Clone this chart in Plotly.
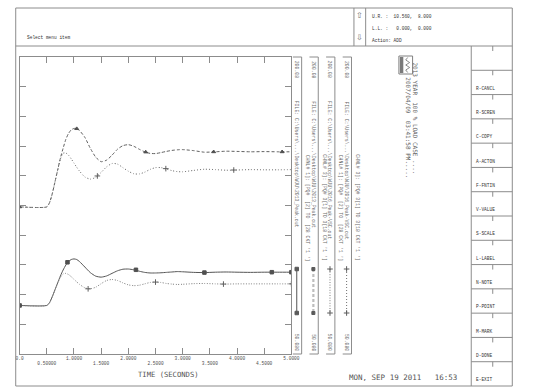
import plotly.graph_objects as go

W, H = 533, 389

# ------------------------------------------------------------------ data
TIME = [0.0, 0.5, 0.55, 0.6, 0.65, 0.7, 0.75, 0.8, 0.85, 0.9, 0.95, 1.0, 1.05, 1.1,
        1.2, 1.3, 1.4, 1.5, 1.6, 1.7, 1.8, 1.9, 2.0, 2.1, 2.2, 2.3, 2.4, 2.5, 2.6,
        2.7, 2.8, 2.9, 3.0, 3.2, 3.4, 3.6, 3.8, 4.0, 4.25, 4.5, 4.75, 5.0]

# 2013_Peak.out  CHNL 3 (upper, dashed)
PEAK2013_CH3 = [124.4, 124.4, 126.5, 131.0, 137.0, 143.0, 149.0, 154.0, 158.5, 161.5,
                163.3, 164.0, 163.9, 163.0, 159.5, 154.0, 149.5, 147.2, 148.0, 150.5,
                153.5, 155.3, 155.8, 155.0, 153.5, 152.2, 151.4, 151.3, 151.8, 152.4,
                152.9, 153.2, 153.3, 152.8, 152.0, 152.2, 152.5, 152.4, 152.2, 152.3,
                152.2, 152.2]
# 2016_Peak-VSC.out  CHNL 3 (upper, dotted)
VSC2016_CH3 = [124.4, 124.4, 126.5, 131.0, 137.0, 143.0, 148.5, 151.5, 151.6, 150.5,
               148.6, 146.5, 144.4, 142.5, 139.5, 138.4, 139.3, 141.8, 144.6, 146.3,
               146.0, 144.2, 142.4, 141.1, 141.0, 141.9, 143.3, 144.2, 144.2, 143.5,
               142.7, 142.2, 142.1, 142.8, 143.4, 143.2, 142.9, 143.0, 143.2, 143.1,
               143.1, 143.2]
# 2013_Peak.out  CHNL 1 (lower, solid)
PEAK2013_CH1 = [74.6, 74.6, 76.0, 79.0, 82.5, 86.0, 89.5, 92.5, 95.0, 96.8,
                97.8, 98.1, 97.8, 96.8, 94.0, 91.2, 89.4, 88.9, 89.5, 90.8,
                92.1, 92.9, 93.0, 92.6, 91.9, 91.3, 91.0, 91.0, 91.1, 91.3,
                91.5, 91.7, 91.6, 91.3, 91.2, 91.4, 91.5, 91.4, 91.3, 91.4,
                91.4, 91.4]
# 2016_Peak-VSC.out  CHNL 1 (lower, dotted)
VSC2016_CH1 = [74.6, 74.6, 76.0, 79.0, 82.5, 86.0, 88.8, 90.5, 90.8, 90.2,
               89.1, 87.8, 86.5, 85.3, 83.5, 83.0, 83.8, 85.6, 87.2, 87.7,
               87.2, 86.0, 85.0, 84.6, 84.8, 85.5, 86.2, 86.4, 86.2, 85.7,
               85.4, 85.2, 85.3, 85.6, 85.7, 85.5, 85.4, 85.5, 85.5, 85.5,
               85.5, 85.5]

# symbol positions along each curve
MK_PEAK2013_CH1_T = [0.0, 0.88, 2.14, 3.40, 4.64, 5.0]
MK_PEAK2013_CH1_V = [74.6, 96.4, 92.6, 91.2, 91.4, 91.4]
MK_PEAK2013_CH3_T = [0.0, 1.05, 2.32, 3.57, 4.83]
MK_PEAK2013_CH3_V = [124.4, 163.9, 152.1, 152.2, 152.2]
MK_VSC2016_CH3_T = [1.43, 2.69, 3.94]
MK_VSC2016_CH3_V = [140.0, 143.7, 143.0]
MK_VSC2016_CH1_T = [1.26, 2.50, 3.75, 5.0]
MK_VSC2016_CH1_V = [83.0, 86.4, 85.4, 85.5]

X_MAJOR_TICKS = [0, 1, 2, 3, 4, 5]
X_MAJOR_LABELS = ["0.0", "1.0000", "2.0000", "3.0000", "4.0000", "5.0000"]
X_MINOR_TICKS = [0.5, 1.5, 2.5, 3.5, 4.5]
X_MINOR_LABELS = ["0.50000", "1.5000", "2.5000", "3.5000", "4.5000"]
Y_MIN, Y_MAX = 50.080, 200.08
Y_TICKS = [50.08, 65.08, 80.08, 95.08, 110.08, 125.08, 140.08, 155.08, 170.08, 185.08, 200.08]

STRIP_MAX = ["200.08", "200.08", "200.08", "200.08"]
STRIP_MIN = ["50.080", "50.080", "50.080", "50.080"]
STRIP_FILE = ["FILE: C:\\Users\\...\\Desktop\\WJU\\2013_Peak.out",
              "FILE: C:\\Users\\...\\Desktop\\WJU\\2013_Peak.out",
              "FILE: C:\\Users\\...\\Desktop\\WJU\\2016_Peak-VSC.out",
              "FILE: C:\\Users\\...\\Desktop\\WJU\\2016_Peak-VSC.out"]
NB = "\u00a0"
STRIP_CHNL = ["CHNL# 1]: [PQ#" + NB * 2 + "[2] TO" + NB * 2 + "[28 CKT '1 ']",
              "CHNL# 3]: [PQ# 3[1] TO 3[18 CKT '1 ']",
              "CHNL# 1]: [PQ#" + NB * 2 + "[2] TO" + NB * 2 + "[28 CKT '1 ']",
              "CHNL# 3]: [PQ# 3[1] TO 3[18 CKT '1 ']"]

MENU_ITEMS = ["R-CANCL", "R-SCREN", "C-COPY", "A-ACTON", "F-FNTIN", "V-VALUE",
              "S-SCALE", "L-LABEL", "N-NOTE", "P-POINT", "M-MARK", "D-DONE", "E-EXIT"]

TITLE_1 = "2013 YEAR" + NB * 2 + "100 % LOAD CASE" + NB + "...."
TITLE_2 = "2007/04/09" + NB * 2 + "03:41:58 PM....."
DATE_TEXT = "MON, SEP 19 2011" + NB * 3 + "16:53"
X_TITLE = "TIME (SECONDS)"
HEADER_LEFT = "Select menu item"
HEADER_RIGHT = ["U.R. :" + NB * 2 + "10.560," + NB * 2 + "8.000",
                "L.L. :" + NB * 3 + "0.000," + NB * 2 + "0.000",
                "Action: ADD"]

# ------------------------------------------------------------------ layout helpers
def PX(x):
    return x / W


def PY(y):
    return 1 - y / H


PLOT_L, PLOT_R, PLOT_T, PLOT_B = 16, 294, 57, 354
FRAME_L, FRAME_R, FRAME_T, FRAME_B = 12, 520, 8, 386
HEAD_B = 46
MENU_L = 478
ROW_H = (FRAME_B - HEAD_B) / 14
STRIP_A0 = 299.5
STRIP_DX = 17

LINE = "#8c8c8c"
TXT = "#4d4d4d"
STRIPTXT = "#6a6a6a"
MONO = "Liberation Mono"
SMONO = "DejaVu Sans Mono"

fig = go.Figure()

# curves
curve_specs = [
    (PEAK2013_CH1, "#555555", "solid", 1.0),
    (PEAK2013_CH3, "#606060", "3px,2px", 1.0),
    (VSC2016_CH1, "#808080", "1px,1.6px", 1.0),
    (VSC2016_CH3, "#707070", "1px,2px", 1.0),
]
for ys, col, dash, w in curve_specs:
    fig.add_trace(go.Scatter(x=TIME, y=ys, mode="lines",
                             line=dict(color=col, width=w, dash=dash, shape="spline", smoothing=0.6),
                             hoverinfo="skip", showlegend=False))

marker_specs = [
    (MK_PEAK2013_CH1_T, MK_PEAK2013_CH1_V, "square", 3.5, "#505050"),
    (MK_PEAK2013_CH3_T, MK_PEAK2013_CH3_V, "triangle-up", 3.5, "#505050"),
    (MK_VSC2016_CH1_T, MK_VSC2016_CH1_V, "cross-thin", 4, "#606060"),
    (MK_VSC2016_CH3_T, MK_VSC2016_CH3_V, "cross-thin", 4, "#606060"),
]
for xs, ys, sym, sz, col in marker_specs:
    fig.add_trace(go.Scatter(x=xs, y=ys, mode="markers",
                             marker=dict(symbol=sym, size=sz, color=col,
                                         line=dict(color=col, width=1)),
                             hoverinfo="skip", showlegend=False))

# dummy trace to carry the staggered tick-label axis
fig.add_trace(go.Scatter(x=[0], y=[Y_MIN], mode="lines", xaxis="x2", yaxis="y",
                         line=dict(width=0), hoverinfo="skip", showlegend=False))

# legend samples (drawn in a pixel-space overlay)
legend_specs = [
    ("#555555", "solid", 1.0, "square", 3.5),
    ("#bdbdbd", "3px,2px", 2.2, "square", 3),
    ("#808080", "1px,1.6px", 1.0, "cross-thin", 4),
    ("#707070", "1px,2px", 1.0, "cross-thin", 4),
]
for k, (col, dash, w, sym, sz) in enumerate(legend_specs):
    lx = STRIP_A0 + STRIP_DX * k
    fig.add_trace(go.Scatter(x=[lx, lx], y=[269, 313], xaxis="x3", yaxis="y3",
                             mode="lines+markers",
                             line=dict(color=col, width=w, dash=dash),
                             marker=dict(symbol=sym, size=sz, color="#5a5a5a",
                                         line=dict(color="#5a5a5a", width=1)),
                             hoverinfo="skip", showlegend=False))

shapes = []


def seg(x0, y0, x1, y1, color=LINE, width=1):
    shapes.append(dict(type="line", xref="paper", yref="paper",
                       x0=PX(x0), y0=PY(y0), x1=PX(x1), y1=PY(y1),
                       line=dict(color=color, width=width)))


# outer frame and header
shapes.append(dict(type="rect", xref="paper", yref="paper",
                   x0=PX(FRAME_L), y0=PY(FRAME_B), x1=PX(FRAME_R), y1=PY(FRAME_T),
                   line=dict(color=LINE, width=1)))
seg(FRAME_L, HEAD_B, FRAME_R, HEAD_B)
seg(358, FRAME_T, 358, HEAD_B)
seg(370, FRAME_T, 370, HEAD_B)

# menu panel
seg(MENU_L, HEAD_B, MENU_L, FRAME_B)
for i in range(14):
    top = HEAD_B + ROW_H * i
    if i > 0:
        seg(MENU_L, top, FRAME_R, top)
    seg(500, top, 500, top + 5)

# channel strips
for k in range(4):
    A = STRIP_A0 + STRIP_DX * k
    L = A + 5
    seg(L, PLOT_T, L, PLOT_B)
    seg(A - 4, PLOT_T, L, PLOT_T)
    seg(A - 4, PLOT_B, L, PLOT_B)

# logo
shapes.append(dict(type="rect", xref="paper", yref="paper",
                   x0=PX(404), y0=PY(74), x1=PX(418), y1=PY(56),
                   line=dict(color="#808080", width=1)))
shapes.append(dict(type="rect", xref="paper", yref="paper",
                   x0=PX(405), y0=PY(73), x1=PX(408.5), y1=PY(57),
                   line=dict(width=0), fillcolor="#7a7a7a"))
pts = [(413, 57.5), (411, 60), (415, 62.5), (411, 65), (415, 67.5),
       (411, 70), (413, 72.5)]
path = "M " + " L ".join(f"{PX(x):.5f},{PY(y):.5f}" for x, y in pts)
shapes.append(dict(type="path", xref="paper", yref="paper", path=path,
                   line=dict(color="#707070", width=0.8)))

annotations = []


def ann(x, y, text, size, xanchor="left", yanchor="middle", angle=0, family=MONO, color=TXT):
    annotations.append(dict(x=PX(x), y=PY(y), xref="paper", yref="paper", text=text,
                            showarrow=False, xanchor=xanchor, yanchor=yanchor,
                            textangle=angle, font=dict(family=family, size=size, color=color),
                            borderpad=0))


ann(22, 38, HEADER_LEFT, 4.5, color="#333333")
for i, t in enumerate(HEADER_RIGHT):
    ann(375, 17 + 11.5 * i, t, 4.5, color="#333333")
ann(364, 15, "\u21e7", 8, xanchor="center", family="DejaVu Sans", color="#707070")
ann(364, 38, "\u21e9", 8, xanchor="center", family="DejaVu Sans", color="#707070")

for i, item in enumerate(MENU_ITEMS):
    top = HEAD_B + ROW_H * (i + 1)
    ann(482, top + 18, item, 4.5, color="#333333")

for k in range(4):
    A = STRIP_A0 + STRIP_DX * k
    ann(A, 60, STRIP_MAX[k], 4.8, xanchor="center", yanchor="top", angle=90, color=STRIPTXT)
    ann(A, 100, STRIP_FILE[k], 4.8, xanchor="center", yanchor="top", angle=90, color=STRIPTXT)
    ann(A, 352, STRIP_MIN[k], 4.8, xanchor="center", yanchor="bottom", angle=90, color=STRIPTXT)
    ann(A + 10.5, 208, STRIP_CHNL[k], 4.8, xanchor="center", yanchor="middle", angle=90, color=STRIPTXT)

ann(421, 61, TITLE_1, 6, xanchor="center", yanchor="top", angle=90, family=SMONO, color="#606060")
ann(413.5, 76, TITLE_2, 6, xanchor="center", yanchor="top", angle=90, family=SMONO, color="#606060")

ann(352, 377, DATE_TEXT, 7.5, family=SMONO, color="#555555")
ann(168, 374, X_TITLE, 7.2, xanchor="center", family=SMONO, color="#555555")

all_ticks = sorted(X_MAJOR_TICKS + X_MINOR_TICKS)
all_text = [X_MAJOR_LABELS[X_MAJOR_TICKS.index(t)] if t in X_MAJOR_TICKS else "" for t in all_ticks]

axis_common = dict(showgrid=False, zeroline=False)
fig.update_layout(
    width=W, height=H, autosize=False,
    margin=dict(l=0, r=0, t=0, b=0, pad=0),
    paper_bgcolor="white", plot_bgcolor="rgba(0,0,0,0)",
    showlegend=False,
    xaxis=dict(domain=[PX(PLOT_L), PX(PLOT_R)], range=[0, 5], anchor="y",
               showline=True, linecolor=LINE, linewidth=1, mirror="ticks",
               ticks="inside", ticklen=6, tickwidth=1, tickcolor=LINE,
               tickvals=all_ticks, ticktext=all_text,
               tickfont=dict(family=MONO, size=4.5, color=TXT), **axis_common),
    xaxis2=dict(overlaying="x", anchor="y", side="bottom", range=[0, 5],
                showline=False, ticks="", tickvals=X_MINOR_TICKS, ticktext=X_MINOR_LABELS,
                ticklabelstandoff=5,
                tickfont=dict(family=MONO, size=4.5, color=TXT), **axis_common),
    yaxis=dict(domain=[PY(PLOT_B), PY(PLOT_T)], range=[Y_MIN, Y_MAX], anchor="x",
               showline=True, linecolor=LINE, linewidth=1, mirror="ticks",
               ticks="inside", ticklen=6, tickwidth=1, tickcolor=LINE,
               tickvals=Y_TICKS, showticklabels=False, **axis_common),
    xaxis3=dict(domain=[0, 1], range=[0, W], anchor="y3", visible=False, **axis_common),
    yaxis3=dict(domain=[0, 1], range=[H, 0], anchor="x3", visible=False, **axis_common),
    shapes=shapes,
    annotations=annotations,
)

fig.write_html("out.html", include_plotlyjs=True, config={"displayModeBar": False},
               post_script="document.body.style.margin='0px';document.body.style.overflow='hidden';")
